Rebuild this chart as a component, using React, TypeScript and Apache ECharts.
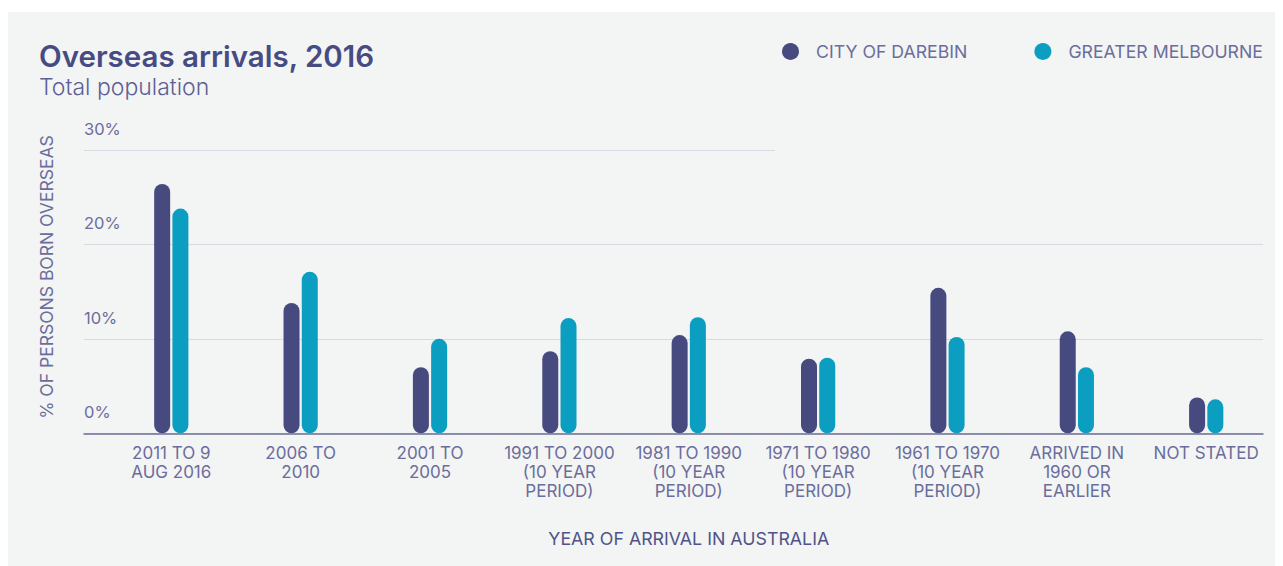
import React, { useEffect, useRef } from "react";
import * as echarts from "echarts";

const categories = [
  "2011 TO 9\nAUG 2016",
  "2006 TO\n2010",
  "2001 TO\n2005",
  "1991 TO 2000\n(10 YEAR\nPERIOD)",
  "1981 TO 1990\n(10 YEAR\nPERIOD)",
  "1971 TO 1980\n(10 YEAR\nPERIOD)",
  "1961 TO 1970\n(10 YEAR\nPERIOD)",
  "ARRIVED IN\n1960 OR\nEARLIER",
  "NOT STATED",
];
const darebin = [26.4, 13.8, 7.0, 8.7, 10.4, 7.9, 15.4, 10.8, 3.8];
const melbourne = [23.8, 17.1, 10.0, 12.2, 12.3, 8.0, 10.2, 7.0, 3.6];
const seriesNames = ["CITY OF DAREBIN", "GREATER MELBOURNE"];
const yTicks = { min: 0, max: 30, interval: 10 };

const FONT = "Inter, 'Open Sans', sans-serif";
const DARK = "#464a7e";
const CYAN = "#0c9ec0";
const LABEL = "#6b6d9c";

export default function App() {
  const ref = useRef<HTMLDivElement>(null);
  useEffect(() => {
    if (!ref.current) return;
    const chart = echarts.init(ref.current, undefined, { renderer: "svg" });
    const gridTop = 138;
    const gridBottom = 132.7;
    chart.setOption({
      animation: false,
      backgroundColor: "#f3f4f4",
      textStyle: { fontFamily: FONT },
      graphic: [
        {
          type: "text",
          x: 31,
          y: 43.5,
          style: {
            text: "Overseas arrivals, 2016",
            fontFamily: FONT,
            fontSize: 29.5,
            fontWeight: 600,
            fill: "#474b83",
            align: "left",
            verticalAlign: "middle",
          },
        },
        {
          type: "text",
          x: 31,
          y: 74.5,
          style: {
            text: "Total population",
            fontFamily: FONT,
            fontSize: 23,
            fontWeight: 300,
            fill: "#5c6094",
            align: "left",
            verticalAlign: "middle",
          },
        },
        {
          type: "text",
          x: 38.5,
          y: 265,
          rotation: Math.PI / 2,
          style: {
            text: "% OF PERSONS BORN OVERSEAS",
            fontFamily: FONT,
            fontSize: 17.5,
            fill: LABEL,
            align: "center",
            verticalAlign: "middle",
          },
        },
      ],
      legend: {
        left: 774,
        top: 30.5,
        padding: 0,
        itemWidth: 17,
        itemHeight: 17,
        itemGap: 67,
        icon: "circle",
        data: seriesNames,
        textStyle: { fontFamily: FONT, fontSize: 17.7, color: LABEL, padding: [0, 0, 0, 12] },
      },
      grid: [
        { left: 76, right: 20, top: gridTop, bottom: gridBottom },
        { left: 98.6, right: 12.1, top: gridTop, bottom: gridBottom },
      ],
      xAxis: [
        {
          gridIndex: 0,
          type: "category",
          data: [""],
          axisLine: { show: true, lineStyle: { color: "#6c6f9a", width: 1.5 } },
          axisTick: { show: false },
          axisLabel: { show: false },
          splitLine: { show: false },
        },
        {
          gridIndex: 1,
          type: "category",
          data: categories,
          axisLine: { show: false },
          axisTick: { show: false },
          axisLabel: {
            interval: 0,
            margin: 10.5,
            fontFamily: FONT,
            fontSize: 17,
            lineHeight: 19,
            color: LABEL,
            align: "center",
          },
          name: "YEAR OF ARRIVAL IN AUSTRALIA",
          nameLocation: "middle",
          nameGap: 96,
          nameTextStyle: { fontFamily: FONT, fontSize: 17.8, color: "#4f5389" },
        },
      ],
      yAxis: [
        {
          gridIndex: 0,
          type: "value",
          min: yTicks.min,
          max: yTicks.max,
          interval: yTicks.interval,
          axisLine: { show: false },
          axisTick: { show: false },
          axisLabel: {
            inside: true,
            margin: 0,
            align: "left",
            verticalAlign: "middle",
            lineHeight: 42,
            fontFamily: FONT,
            fontSize: 16.5,
            color: LABEL,
            formatter: (v: number) => `${v}%\n `,
          },
          splitLine: {
            show: true,
            showMaxLine: false,
            lineStyle: { color: "#d9d9e3", width: 1 },
          },
        },
        {
          gridIndex: 1,
          type: "value",
          min: yTicks.min,
          max: yTicks.max,
          interval: yTicks.interval,
          show: false,
          splitLine: { show: false },
        },
      ],
      series: [
        {
          name: seriesNames[0],
          type: "bar",
          xAxisIndex: 1,
          yAxisIndex: 1,
          data: darebin,
          barWidth: 16,
          barGap: "14%",
          itemStyle: { color: DARK, borderRadius: 8 },
          markLine: {
            silent: true,
            symbol: "none",
            label: { show: false },
            lineStyle: { color: "#d9d9e3", width: 1, type: "solid" },
            data: [[{ yAxis: 30, x: 76 }, { yAxis: 30, x: 767 }]],
          },
        },
        {
          name: seriesNames[1],
          type: "bar",
          xAxisIndex: 1,
          yAxisIndex: 1,
          data: melbourne,
          barWidth: 16,
          barGap: "14%",
          itemStyle: { color: CYAN, borderRadius: 8 },
        },
      ],
    });
    return () => chart.dispose();
  }, []);
  return (
    <div style={{ paddingTop: 4 }}>
      <div ref={ref} style={{ width: 1275, height: 554, background: "#f3f4f4" }} />
    </div>
  );
}
